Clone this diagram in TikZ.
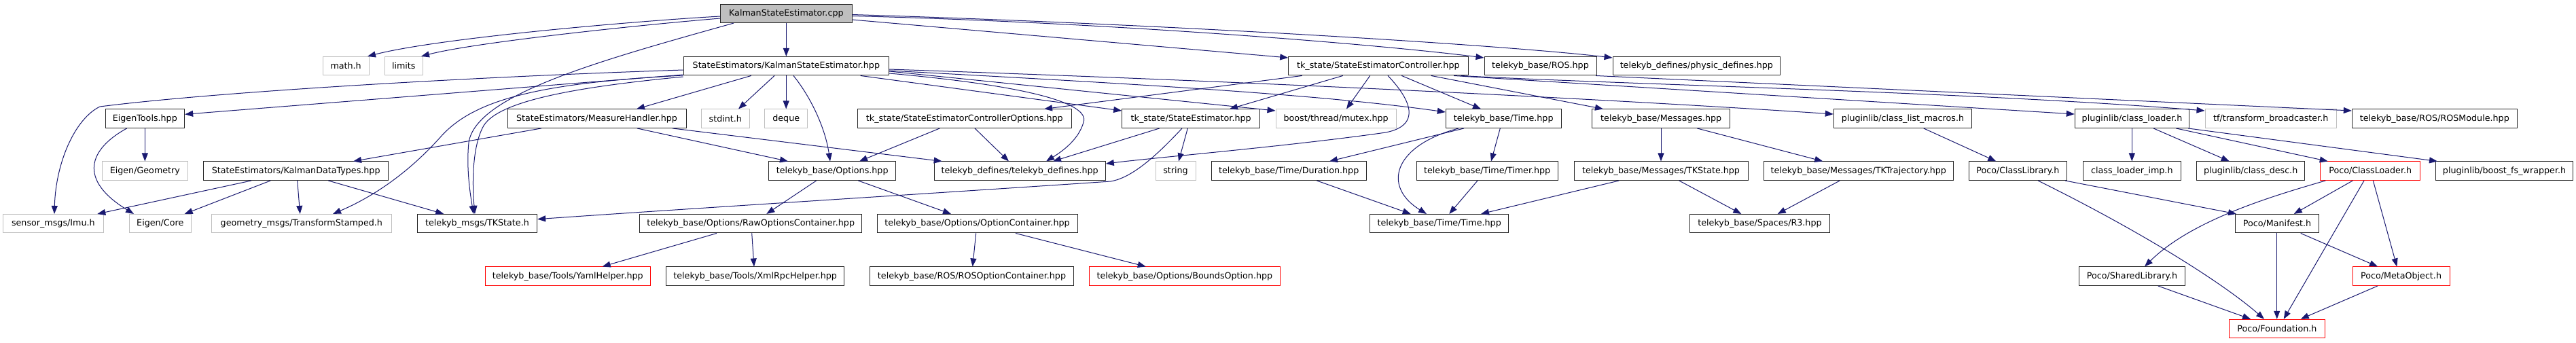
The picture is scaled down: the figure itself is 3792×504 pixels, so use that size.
\documentclass[tikz,border=0pt]{standalone}
\usepackage{fontspec}
\setmainfont{DejaVu Sans}
\usetikzlibrary{arrows.meta}
\definecolor{edgec}{HTML}{191970}
\definecolor{grayb}{HTML}{BFBFBF}
\definecolor{rootf}{HTML}{BFBFBF}
\begin{document}
\begin{tikzpicture}[x=1pt,y=-1pt,
  box/.style={draw=black!85, line width=1pt, fill=white, inner sep=0pt, minimum height=27.5pt, font=\fontsize{12.7}{15}\selectfont, text=black},
  gbox/.style={box, draw=grayb},
  rbox/.style={box, draw=red},
  rootbox/.style={box, fill=rootf},
  edge/.style={draw=edgec, line width=1pt, -{Triangle[length=12pt,width=9pt]}}]
\fill[white] (0,0) rectangle (3792,504);
\useasboundingbox (0,0) rectangle (3792,504);
% row 0
\node[rootbox, minimum width=193.3pt] (cpp) at (1157.35,19.8) {KalmanStateEstimator.cpp};
% row 1
\node[gbox, minimum width=68.3pt] (math) at (509.15,97.2) {math.h};
\node[gbox, minimum width=56pt] (limits) at (594.3,97.2) {limits};
\node[box, minimum width=302.7pt] (kseh) at (1157.35,97.2) {StateEstimators/KalmanStateEstimator.hpp};
\node[box, minimum width=264.3pt] (sec) at (2028.85,97.2) {tk\_state/StateEstimatorController.hpp};
\node[box, minimum width=165pt] (ros) at (2267.5,97.2) {telekyb\_base/ROS.hpp};
\node[box, minimum width=246.7pt] (phys) at (2497.35,97.2) {telekyb\_defines/physic\_defines.hpp};
% row 2
\node[box, minimum width=116.7pt] (eig) at (213.35,174.7) {EigenTools.hpp};
\node[box, minimum width=263pt] (mh) at (878.5,174.7) {StateEstimators/MeasureHandler.hpp};
\node[gbox, minimum width=71pt] (stdint) at (1067.8,174.7) {stdint.h};
\node[gbox, minimum width=63pt] (deque) at (1157.2,174.7) {deque};
\node[box, minimum width=315pt] (seco) at (1419.8,174.7) {tk\_state/StateEstimatorControllerOptions.hpp};
\node[box, minimum width=203pt] (se) at (1753.2,174.7) {tk\_state/StateEstimator.hpp};
\node[gbox, minimum width=177.3pt] (mutex) at (1966.65,174.7) {boost/thread/mutex.hpp};
\node[box, minimum width=169.7pt] (time) at (2213.15,174.7) {telekyb\_base/Time.hpp};
\node[box, minimum width=203pt] (msgs) at (2445.2,174.7) {telekyb\_base/Messages.hpp};
\node[box, minimum width=203.4pt] (clm) at (2801,174.7) {pluginlib/class\_list\_macros.h};
\node[box, minimum width=168.4pt] (cl) at (3138.5,174.7) {pluginlib/class\_loader.h};
\node[gbox, minimum width=193.3pt] (tf) at (3342.65,174.7) {tf/transform\_broadcaster.h};
\node[box, minimum width=243pt] (rosm) at (3583.8,174.7) {telekyb\_base/ROS/ROSModule.hpp};
% row 3
\node[gbox, minimum width=125.3pt] (geom) at (213.35,251.7) {Eigen/Geometry};
\node[box, minimum width=272pt] (kdt) at (435.7,251.7) {StateEstimators/KalmanDataTypes.hpp};
\node[box, minimum width=187pt] (opt) at (1225.2,251.7) {telekyb\_base/Options.hpp};
\node[box, minimum width=252.3pt] (tdef) at (1501.15,251.7) {telekyb\_defines/telekyb\_defines.hpp};
\node[gbox, minimum width=59pt] (string) at (1730.5,251.7) {string};
\node[box, minimum width=228.3pt] (dur) at (1897.15,251.7) {telekyb\_base/Time/Duration.hpp};
\node[box, minimum width=208.3pt] (timer) at (2189.15,251.7) {telekyb\_base/Time/Timer.hpp};
\node[box, minimum width=256pt] (tkst) at (2445,251.7) {telekyb\_base/Messages/TKState.hpp};
\node[box, minimum width=279pt] (tktr) at (2735.8,251.7) {telekyb\_base/Messages/TKTrajectory.hpp};
\node[box, minimum width=144pt] (clib) at (2970.3,251.7) {Poco/ClassLibrary.h};
\node[box, minimum width=144pt] (cli) at (3138.3,251.7) {class\_loader\_imp.h};
\node[box, minimum width=159pt] (cdesc) at (3313.2,251.7) {pluginlib/class\_desc.h};
\node[rbox, minimum width=147pt] (cloader) at (3489.2,251.7) {Poco/ClassLoader.h};
\node[box, minimum width=201.6pt] (bfs) at (3686.5,251.7) {pluginlib/boost\_fs\_wrapper.h};
% row 4
\node[gbox, minimum width=147.3pt] (imu) at (78.35,329.2) {sensor\_msgs/Imu.h};
\node[gbox, minimum width=91pt] (core) at (235.8,329.2) {Eigen/Core};
\node[gbox, minimum width=264.3pt] (tfs) at (443.85,329.2) {geometry\_msgs/TransformStamped.h};
\node[box, minimum width=176.4pt] (tkmsg) at (702.5,329.2) {telekyb\_msgs/TKState.h};
\node[box, minimum width=327pt] (raw) at (1105.2,329.2) {telekyb\_base/Options/RawOptionsContainer.hpp};
\node[box, minimum width=295pt] (oc) at (1438.5,329.2) {telekyb\_base/Options/OptionContainer.hpp};
\node[box, minimum width=204pt] (ttime) at (2118.7,329.2) {telekyb\_base/Time/Time.hpp};
\node[box, minimum width=205.6pt] (r3) at (2590.5,329.2) {telekyb\_base/Spaces/R3.hpp};
\node[box, minimum width=122.6pt] (man) at (3352,329.2) {Poco/Manifest.h};
% row 5
\node[rbox, minimum width=243pt] (yaml) at (835.8,406.7) {telekyb\_base/Tools/YamlHelper.hpp};
\node[box, minimum width=262pt] (xml) at (1111.7,406.7) {telekyb\_base/Tools/XmlRpcHelper.hpp};
\node[box, minimum width=299.6pt] (rosoc) at (1430.5,406.7) {telekyb\_base/ROS/ROSOptionContainer.hpp};
\node[rbox, minimum width=281.7pt] (bounds) at (1743.85,406.7) {telekyb\_base/Options/BoundsOption.hpp};
\node[box, minimum width=156.4pt] (shl) at (3138.5,406.7) {Poco/SharedLibrary.h};
\node[rbox, minimum width=143pt] (meta) at (3534.5,406.7) {Poco/MetaObject.h};
% row 6
\node[rbox, minimum width=140.3pt] (found) at (3351.85,484) {Poco/Foundation.h};

% edges from cpp
\draw[edge] (cpp.west |- 0,24) .. controls (950,30) and (650,55) .. (math.north -| 541,0);
\draw[edge] (cpp.west |- 0,27) .. controls (950,36) and (700,62) .. (limits.north -| 620,0);
\draw[edge] (cpp.south -| 1080,0) .. controls (880,90) and (700,140) .. (690,210) .. controls (686,250) and (693,290) .. (tkmsg.north -| 697,0);
\draw[edge] (cpp.south -| 1157.35,0) -- (kseh.north -| 1157.35,0);
\draw[edge] (cpp.east |- 0,29) -- (sec.west |- 0,85);
\draw[edge] (cpp.east |- 0,23.5) .. controls (1600,32) and (2000,62) .. (ros.west |- 0,85);
\draw[edge] (cpp.east |- 0,21.5) .. controls (1700,35) and (2200,65) .. (phys.west |- 0,85);
% kseh left
\draw[edge] (kseh.west |- 0,103) .. controls (700,113) and (320,135) .. (147,157) .. controls (110,175) and (82,240) .. (imu.north -| 80,0);
\draw[edge] (kseh.west |- 0,110) -- (eig.east |- 0,168.3);
\draw[edge] (kseh.west |- 0,111) .. controls (800,122) and (700,145) .. (650,200) .. controls (610,245) and (560,285) .. (tfs.north -| 490,0);
\draw[edge] (kseh.west |- 0,113) .. controls (850,128) and (735,148) .. (712,185) .. controls (695,215) and (695,270) .. (tkmsg.north -| 699,0);
\draw[edge] (kseh.south -| 1105.7,0) -- (mh.north -| 937,0);
\draw[edge] (kseh.south -| 1140,0) -- (stdint.north -| 1087,0);
\draw[edge] (kseh.south -| 1157.2,0) -- (deque.north -| 1157.2,0);
\draw[edge] (kseh.south -| 1168,0) .. controls (1195,145) and (1215,190) .. (opt.north -| 1222,0);
% kseh right
\draw[edge] (kseh.south -| 1266.7,0) -- (se.west |- 0,163);
\draw[edge] (kseh.east |- 0,108) .. controls (1500,125) and (1605,150) .. (1595,180) .. controls (1588,205) and (1565,222) .. (tdef.north -| 1540,0);
\draw[edge] (kseh.east |- 0,105) -- (mutex.west |- 0,163);
\draw[edge] (kseh.east |- 0,104) .. controls (1700,125) and (1950,140) .. (time.west |- 0,165);
\draw[edge] (kseh.east |- 0,102) .. controls (1900,122) and (2400,148) .. (clm.west |- 0,168);
% sec
\draw[edge] (sec.south -| 1916.7,0) -- (seco.north -| 1537,0);
\draw[edge] (sec.south -| 1976.7,0) -- (se.north -| 1810,0);
\draw[edge] (sec.south -| 2016.7,0) -- (mutex.north -| 1982,0);
\draw[edge] (sec.south -| 2043,0) .. controls (2080,150) and (2090,185) .. (2040,195) .. controls (1900,215) and (1700,232) .. (tdef.east |- 0,241);
\draw[edge] (sec.south -| 2063.3,0) -- (time.north -| 2180,0);
\draw[edge] (sec.south -| 2106.7,0) -- (msgs.north -| 2360,0);
\draw[edge] (sec.south -| 2150,0) .. controls (2400,125) and (2900,135) .. (tf.west |- 0,163);
\draw[edge] (sec.south -| 2140,0) -- (cl.west |- 0,168);
\draw[edge] (ros.south -| 2349,0) -- (rosm.west |- 0,163);
% time
\draw[edge] (time.south -| 2155,0) -- (dur.north -| 1957,0);
\draw[edge] (time.south -| 2147,0) .. controls (2050,215) and (2035,275) .. (ttime.north -| 2100,0);
\draw[edge] (time.south -| 2208.3,0) -- (timer.north -| 2195,0);
\draw[edge] (dur.south -| 1938.3,0) -- (ttime.north -| 2076.7,0);
\draw[edge] (timer.south -| 2175,0) -- (ttime.north -| 2133.3,0);
\draw[edge] (tkst.south -| 2383.3,0) -- (ttime.north -| 2180,0);
% messages
\draw[edge] (msgs.south -| 2445,0) -- (tkst.north -| 2445,0);
\draw[edge] (msgs.south -| 2498.3,0) -- (tktr.north -| 2683.3,0);
\draw[edge] (tkst.south -| 2471.7,0) -- (r3.north -| 2563.3,0);
\draw[edge] (tktr.south -| 2708.3,0) -- (r3.north -| 2616.7,0);
% pluginlib
\draw[edge] (clm.south -| 2831.7,0) -- (clib.north -| 2938.3,0);
\draw[edge] (cl.south -| 3138.3,0) -- (cli.north -| 3138.3,0);
\draw[edge] (cl.south -| 3170,0) -- (cdesc.north -| 3281.7,0);
\draw[edge] (cl.south -| 3203.3,0) -- (cloader.north -| 3426.7,0);
\draw[edge] (cl.south -| 3221,0) -- (bfs.north -| 3588,0);
% poco
\draw[edge] (clib.south -| 3040,0) -- (man.north -| 3292,0);
\draw[edge] (clib.south -| 3000,0) .. controls (3150,340) and (3270,415) .. (found.north -| 3333,0);
\draw[edge] (cloader.south -| 3423.3,0) .. controls (3340,290) and (3225,325) .. (shl.north -| 3157,0);
\draw[edge] (cloader.south -| 3463.3,0) -- (man.north -| 3376.7,0);
\draw[edge] (cloader.south -| 3480,0) -- (found.north -| 3361.7,0);
\draw[edge] (cloader.south -| 3493.3,0) -- (meta.north -| 3528.3,0);
\draw[edge] (man.south -| 3351.7,0) -- (found.north -| 3351.7,0);
\draw[edge] (man.south -| 3386.7,0) -- (meta.north -| 3500,0);
\draw[edge] (shl.south -| 3176.7,0) -- (found.north -| 3313,0);
\draw[edge] (meta.south -| 3500,0) -- (found.north -| 3386.7,0);
% options
\draw[edge] (opt.south -| 1201.7,0) -- (raw.north -| 1128.3,0);
\draw[edge] (opt.south -| 1263.3,0) -- (oc.north -| 1400,0);
\draw[edge] (raw.south -| 1055,0) -- (yaml.north -| 886.7,0);
\draw[edge] (raw.south -| 1106.7,0) -- (xml.north -| 1110,0);
\draw[edge] (oc.south -| 1436.7,0) -- (rosoc.north -| 1431.7,0);
\draw[edge] (oc.south -| 1495,0) -- (bounds.north -| 1686.7,0);
% state estimator
\draw[edge] (se.south -| 1706.7,0) -- (tdef.north -| 1550,0);
\draw[edge] (se.south -| 1748.3,0) -- (string.north -| 1735,0);
\draw[edge] (se.south -| 1740,0) .. controls (1700,232) and (1665,262) .. (1635,267) .. controls (1400,283) and (1000,308) .. (tkmsg.east |- 0,322.7);
% se controller options
\draw[edge] (seco.south -| 1383.3,0) -- (opt.north -| 1265,0);
\draw[edge] (seco.south -| 1435,0) -- (tdef.north -| 1485,0);
% measure handler
\draw[edge] (mh.south -| 796.7,0) -- (kdt.north -| 520,0);
\draw[edge] (mh.south -| 938,0) -- (opt.north -| 1160,0);
\draw[edge] (mh.south -| 990,0) -- (tdef.north -| 1386.7,0);
% kalman data types
\draw[edge] (kdt.south -| 370,0) -- (imu.north -| 143.3,0);
\draw[edge] (kdt.south -| 398.3,0) -- (core.north -| 271.7,0);
\draw[edge] (kdt.south -| 437.7,0) -- (tfs.north -| 441.7,0);
\draw[edge] (kdt.south -| 483.3,0) -- (tkmsg.north -| 653.3,0);
% eigen tools
\draw[edge] (eig.south -| 213.35,0) -- (geom.north -| 213.35,0);
\draw[edge] (eig.south -| 186.7,0) .. controls (130,220) and (115,265) .. (core.north -| 197,0);
\end{tikzpicture}
\end{document}
